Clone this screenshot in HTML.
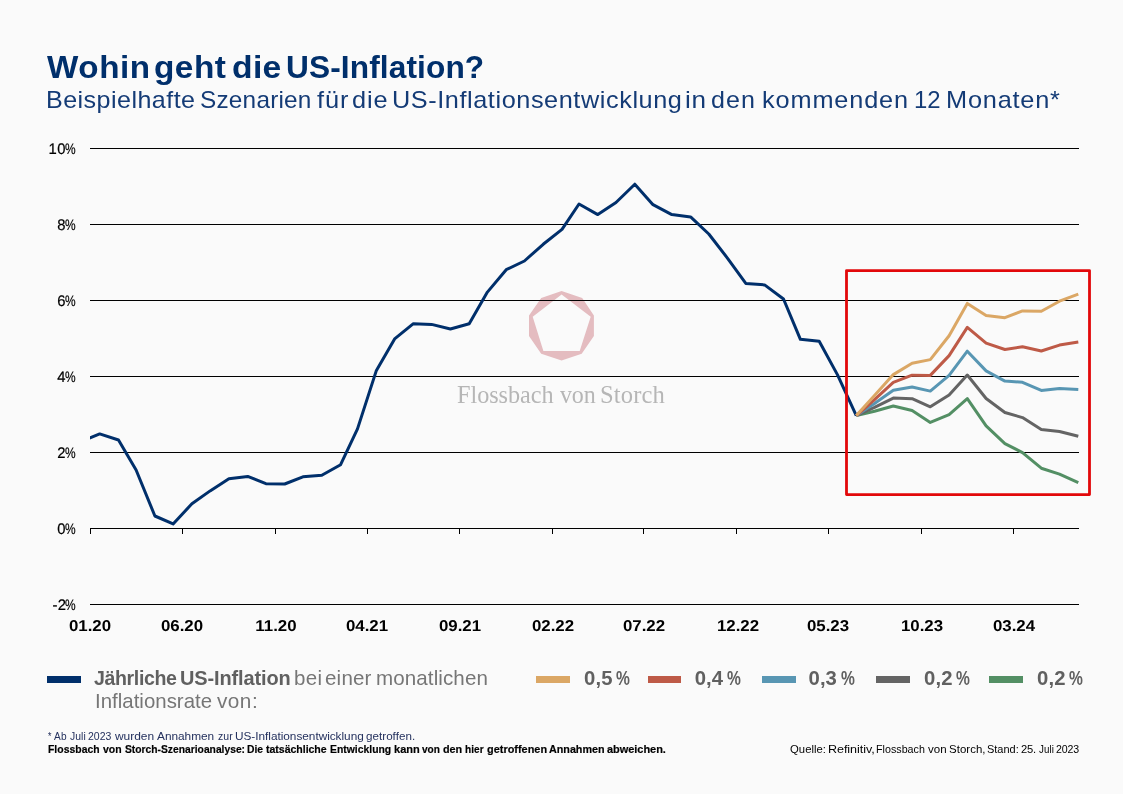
<!DOCTYPE html>
<html lang="de">
<head>
<meta charset="utf-8">
<title>Wohin geht die US-Inflation?</title>
<style>
html,body{margin:0;padding:0;}
body{width:1123px;height:794px;background:#fafafa;overflow:hidden;position:relative;font-family:"Liberation Sans",sans-serif;}
.chart{position:absolute;left:0;top:0;}
.g{stroke:#000;stroke-width:1;shape-rendering:crispEdges;}
.l{fill:none;stroke-linejoin:round;stroke-linecap:butt;}
.t{position:absolute;white-space:nowrap;line-height:1;transform-origin:left top;color:#000;}
.b{font-weight:bold;}
.navy{color:#002f6b;}
.gr{color:#606060;}
.wm{font-family:"Liberation Serif",serif;color:#b6b6b6;}
.fn{color:#24315e;}
.ln{position:absolute;left:0;width:1123px;height:1em;line-height:1;white-space:nowrap;}
.w{position:absolute;top:0;display:block;line-height:1;transform-origin:left top;white-space:nowrap;}
.hv{-webkit-text-stroke:0.2px #000;}
.yl{-webkit-text-stroke:0.2px #000;}
.navy2{color:#143b76;}
.gr2{color:#767676;}
</style>
</head>
<body>
<svg class="chart" width="1123" height="794" viewBox="0 0 1123 794">
<path fill="#e4bcc0" fill-rule="evenodd" d="M561.6 291 L582.2 297.9 L593.9 315.4 L593.9 336.1 L581.7 353.7 L561.6 360.5 L541.2 353.7 L529 336.1 L529 315.4 L541.2 297.9 Z M561.6 294.5 L590.7 316.8 L579.7 350.9 L543.4 350.9 L532.7 316.8 Z"/>
<line x1="90" x2="1079" y1="148.5" y2="148.5" class="g"/>
<line x1="90" x2="1079" y1="224.5" y2="224.5" class="g"/>
<line x1="90" x2="1079" y1="300.5" y2="300.5" class="g"/>
<line x1="90" x2="1079" y1="376.5" y2="376.5" class="g"/>
<line x1="90" x2="1079" y1="452.5" y2="452.5" class="g"/>
<line x1="90" x2="1079" y1="528.5" y2="528.5" class="g"/>
<line x1="90" x2="1079" y1="604.5" y2="604.5" class="g"/>
<line x1="90.5" x2="90.5" y1="528" y2="534" class="g"/>
<line x1="182.5" x2="182.5" y1="528" y2="534" class="g"/>
<line x1="275.5" x2="275.5" y1="528" y2="534" class="g"/>
<line x1="367.5" x2="367.5" y1="528" y2="534" class="g"/>
<line x1="459.5" x2="459.5" y1="528" y2="534" class="g"/>
<line x1="552.5" x2="552.5" y1="528" y2="534" class="g"/>
<line x1="643.5" x2="643.5" y1="528" y2="534" class="g"/>
<line x1="736.5" x2="736.5" y1="528" y2="534" class="g"/>
<line x1="828.5" x2="828.5" y1="528" y2="534" class="g"/>
<line x1="921.5" x2="921.5" y1="528" y2="534" class="g"/>
<line x1="1013.5" x2="1013.5" y1="528" y2="534" class="g"/>
<clipPath id="plot"><rect x="90" y="120" width="1000" height="500"/></clipPath>
<polyline class="l" clip-path="url(#plot)" stroke="#002f6b" stroke-width="3" points="80.9,441.5 99.7,433.9 118.5,440.0 136.1,470.0 154.9,516.0 173.1,523.9 191.9,503.8 210.1,490.9 228.9,478.7 247.7,476.4 265.9,483.7 284.7,484.0 302.9,476.8 321.8,475.3 340.6,464.7 357.5,428.9 376.4,370.4 394.6,338.9 413.4,323.7 431.6,324.4 450.4,329.0 469.2,323.7 487.4,292.1 506.2,269.7 524.4,261.0 543.2,244.3 562.0,229.4 579.0,204.0 597.8,214.6 616.0,202.5 634.8,184.2 653.0,204.7 671.8,214.6 690.6,216.9 708.8,234.0 727.6,258.3 745.8,283.4 764.6,284.9 783.5,299.0 800.4,339.3 819.2,341.2 837.4,374.6 856.3,415.6"/>
<polyline class="l" stroke="#538f64" stroke-width="3" points="856.3,415.6 874.5,411.3 893.3,406.0 912.1,410.5 930.3,422.4 949.1,414.6 967.3,398.6 986.1,425.9 1004.9,443.6 1022.5,452.6 1041.3,468.2 1059.5,474.1 1078.3,482.6"/>
<polyline class="l" stroke="#646464" stroke-width="3" points="856.3,415.6 874.5,407.4 893.3,398.1 912.1,398.7 930.3,406.8 949.1,395.0 967.3,375.0 986.1,398.5 1004.9,412.5 1022.5,417.6 1041.3,429.5 1059.5,431.5 1078.3,436.3"/>
<polyline class="l" stroke="#5896b3" stroke-width="3" points="856.3,415.6 874.5,403.5 893.3,390.3 912.1,387.0 930.3,391.1 949.1,375.3 967.3,351.2 986.1,370.9 1004.9,381.1 1022.5,382.3 1041.3,390.4 1059.5,388.5 1078.3,389.4"/>
<polyline class="l" stroke="#be5a47" stroke-width="3" points="856.3,415.6 874.5,399.6 893.3,382.4 912.1,375.2 930.3,375.4 949.1,355.6 967.3,327.4 986.1,343.2 1004.9,349.5 1022.5,346.8 1041.3,351.0 1059.5,345.1 1078.3,342.0"/>
<polyline class="l" stroke="#dba765" stroke-width="3" points="856.3,415.6 874.5,395.6 893.3,374.6 912.1,363.3 930.3,359.6 949.1,335.7 967.3,303.4 986.1,315.4 1004.9,317.7 1022.5,310.9 1041.3,311.2 1059.5,301.2 1078.3,294.1"/>
<rect x="846.5" y="270.6" width="243" height="224" fill="none" stroke="#e2080a" stroke-width="2.8" stroke-linejoin="round"/>
<rect x="47" y="676" width="34" height="7" fill="#002f6b"/>
<rect x="536" y="676" width="34" height="7" fill="#dba765"/>
<rect x="648" y="676" width="33" height="7" fill="#be5a47"/>
<rect x="762" y="676" width="34" height="7" fill="#5896b3"/>
<rect x="876" y="676" width="34" height="7" fill="#646464"/>
<rect x="989" y="676" width="34" height="7" fill="#538f64"/>
</svg>
<div class="ln b navy" style="top:52.63px;font-size:30.8px;"><span class="w" style="left:46.50px;letter-spacing:0.525px;transform:scaleX(1.0783);">Wohin</span> <span class="w" style="left:154.40px;letter-spacing:0.436px;transform:scaleX(1.0837);">geht</span> <span class="w" style="left:231.60px;letter-spacing:0.294px;transform:scaleX(1.0936);">die</span> <span class="w" style="left:285.62px;letter-spacing:0.117px;transform:scaleX(1.0269);">US-Inflation?</span></div>
<div class="ln navy2" style="top:88.18px;font-size:24px;"><span class="w" style="left:45.90px;letter-spacing:0.434px;transform:scaleX(1.0451);">Beispielhafte</span> <span class="w" style="left:200.20px;letter-spacing:0.222px;transform:scaleX(1.0142);">Szenarien</span> <span class="w" style="left:316.80px;letter-spacing:0.908px;transform:scaleX(1.0571);">für</span> <span class="w" style="left:352.40px;letter-spacing:0.845px;transform:scaleX(1.0547);">die</span> <span class="w" style="left:392.35px;letter-spacing:0.548px;transform:scaleX(1.0526);">US-Inflationsentwicklung</span> <span class="w" style="left:685.36px;letter-spacing:0.727px;transform:scaleX(1.0858);">in</span> <span class="w" style="left:711.20px;letter-spacing:1.056px;transform:scaleX(1.0434);">den</span> <span class="w" style="left:761.51px;letter-spacing:0.841px;transform:scaleX(1.0526);">kommenden</span> <span class="w" style="left:913.68px;letter-spacing:-0.147px;transform:scaleX(0.9963);">12</span> <span class="w" style="left:945.70px;letter-spacing:0.752px;transform:scaleX(1.0552);">Monaten*</span></div>
<div class="ln wm" style="top:382.65px;font-size:24.3px;"><span class="w" style="left:457.35px;letter-spacing:-0.050px;transform:scaleX(0.9982);">Flossbach</span> <span class="w" style="left:560.30px;letter-spacing:-0.147px;transform:scaleX(0.9887);">von</span> <span class="w" style="left:600.17px;letter-spacing:0.120px;transform:scaleX(1.0120);">Storch</span></div>
<div class="t yl" style="right:1057.10px;top:140.85px;font-size:15.3px;text-align:right;transform-origin:right top;letter-spacing:0.400px;transform:matrix(0.9700,0.0005,0,1,0,0);">10</div>
<div class="t yl" style="right:1047.40px;top:140.85px;font-size:15.3px;text-align:right;transform-origin:right top;transform:matrix(0.7800,0.0005,0,1,0,0);">%</div>
<div class="t yl" style="right:1057.10px;top:216.85px;font-size:15.3px;text-align:right;transform-origin:right top;letter-spacing:0.400px;transform:matrix(0.9700,0.0005,0,1,0,0);">8</div>
<div class="t yl" style="right:1047.40px;top:216.85px;font-size:15.3px;text-align:right;transform-origin:right top;transform:matrix(0.7800,0.0005,0,1,0,0);">%</div>
<div class="t yl" style="right:1057.10px;top:292.85px;font-size:15.3px;text-align:right;transform-origin:right top;letter-spacing:0.400px;transform:matrix(0.9700,0.0005,0,1,0,0);">6</div>
<div class="t yl" style="right:1047.40px;top:292.85px;font-size:15.3px;text-align:right;transform-origin:right top;transform:matrix(0.7800,0.0005,0,1,0,0);">%</div>
<div class="t yl" style="right:1057.10px;top:368.85px;font-size:15.3px;text-align:right;transform-origin:right top;letter-spacing:0.400px;transform:matrix(0.9700,0.0005,0,1,0,0);">4</div>
<div class="t yl" style="right:1047.40px;top:368.85px;font-size:15.3px;text-align:right;transform-origin:right top;transform:matrix(0.7800,0.0005,0,1,0,0);">%</div>
<div class="t yl" style="right:1057.10px;top:444.85px;font-size:15.3px;text-align:right;transform-origin:right top;letter-spacing:0.400px;transform:matrix(0.9700,0.0005,0,1,0,0);">2</div>
<div class="t yl" style="right:1047.40px;top:444.85px;font-size:15.3px;text-align:right;transform-origin:right top;transform:matrix(0.7800,0.0005,0,1,0,0);">%</div>
<div class="t yl" style="right:1057.10px;top:520.85px;font-size:15.3px;text-align:right;transform-origin:right top;letter-spacing:0.400px;transform:matrix(0.9700,0.0005,0,1,0,0);">0</div>
<div class="t yl" style="right:1047.40px;top:520.85px;font-size:15.3px;text-align:right;transform-origin:right top;transform:matrix(0.7800,0.0005,0,1,0,0);">%</div>
<div class="t yl" style="right:1057.10px;top:596.85px;font-size:15.3px;text-align:right;transform-origin:right top;letter-spacing:0.400px;transform:matrix(0.9700,0.0005,0,1,0,0);">-2</div>
<div class="t yl" style="right:1047.40px;top:596.85px;font-size:15.3px;text-align:right;transform-origin:right top;transform:matrix(0.7800,0.0005,0,1,0,0);">%</div>
<div class="t b" style="left:50.10px;top:617.71px;font-size:15.7px;width:80px;text-align:center;transform-origin:center top;transform:matrix(1.0750,0.0005,0,1.0000,0,0);">01.20</div>
<div class="t b" style="left:142.10px;top:617.71px;font-size:15.7px;width:80px;text-align:center;transform-origin:center top;transform:matrix(1.0750,0.0005,0,1.0000,0,0);">06.20</div>
<div class="t b" style="left:235.60px;top:617.71px;font-size:15.7px;width:80px;text-align:center;transform-origin:center top;transform:matrix(1.0750,0.0005,0,1.0000,0,0);">11.20</div>
<div class="t b" style="left:327.10px;top:617.71px;font-size:15.7px;width:80px;text-align:center;transform-origin:center top;transform:matrix(1.0750,0.0005,0,1.0000,0,0);">04.21</div>
<div class="t b" style="left:419.60px;top:617.71px;font-size:15.7px;width:80px;text-align:center;transform-origin:center top;transform:matrix(1.0750,0.0005,0,1.0000,0,0);">09.21</div>
<div class="t b" style="left:513.10px;top:617.71px;font-size:15.7px;width:80px;text-align:center;transform-origin:center top;transform:matrix(1.0750,0.0005,0,1.0000,0,0);">02.22</div>
<div class="t b" style="left:604.30px;top:617.71px;font-size:15.7px;width:80px;text-align:center;transform-origin:center top;transform:matrix(1.0750,0.0005,0,1.0000,0,0);">07.22</div>
<div class="t b" style="left:697.60px;top:617.71px;font-size:15.7px;width:80px;text-align:center;transform-origin:center top;transform:matrix(1.0750,0.0005,0,1.0000,0,0);">12.22</div>
<div class="t b" style="left:788.10px;top:617.71px;font-size:15.7px;width:80px;text-align:center;transform-origin:center top;transform:matrix(1.0750,0.0005,0,1.0000,0,0);">05.23</div>
<div class="t b" style="left:881.90px;top:617.71px;font-size:15.7px;width:80px;text-align:center;transform-origin:center top;transform:matrix(1.0750,0.0005,0,1.0000,0,0);">10.23</div>
<div class="t b" style="left:973.50px;top:617.71px;font-size:15.7px;width:80px;text-align:center;transform-origin:center top;transform:matrix(1.0750,0.0005,0,1.0000,0,0);">03.24</div>
<div class="ln gr b" style="top:668.12px;font-size:20.3px;"><span class="w" style="left:94.30px;letter-spacing:-0.398px;transform:scaleX(0.9661);">Jährliche</span> <span class="w" style="left:179.70px;letter-spacing:-0.116px;transform:scaleX(0.9844);">US-Inflation</span></div>
<div class="ln gr2" style="top:668.12px;font-size:20.3px;"><span class="w" style="left:293.60px;letter-spacing:0.293px;transform:scaleX(1.0120);">bei</span> <span class="w" style="left:324.91px;letter-spacing:0.187px;transform:scaleX(1.0134);">einer</span> <span class="w" style="left:375.70px;letter-spacing:0.100px;transform:scaleX(1.0136);">monatlichen</span></div>
<div class="ln gr2" style="top:691.02px;font-size:20.3px;"><span class="w" style="left:94.73px;letter-spacing:0.017px;transform:scaleX(1.0063);">Inflationsrate</span> <span class="w" style="left:216.80px;letter-spacing:0.469px;transform:scaleX(1.0230);">von:</span></div>
<div class="t gr b" style="left:584.10px;top:667.62px;font-size:20.3px;letter-spacing:0.100px;">0,5</div>
<div class="t gr b" style="left:616.40px;top:667.87px;font-size:20px;transform:scaleX(0.7800);">%</div>
<div class="t gr b" style="left:694.70px;top:667.62px;font-size:20.3px;letter-spacing:0.100px;">0,4</div>
<div class="t gr b" style="left:727.00px;top:667.87px;font-size:20px;transform:scaleX(0.7800);">%</div>
<div class="t gr b" style="left:808.50px;top:667.62px;font-size:20.3px;letter-spacing:0.100px;">0,3</div>
<div class="t gr b" style="left:840.80px;top:667.87px;font-size:20px;transform:scaleX(0.7800);">%</div>
<div class="t gr b" style="left:924.10px;top:667.62px;font-size:20.3px;letter-spacing:0.100px;">0,2</div>
<div class="t gr b" style="left:956.40px;top:667.87px;font-size:20px;transform:scaleX(0.7800);">%</div>
<div class="t gr b" style="left:1037.10px;top:667.62px;font-size:20.3px;letter-spacing:0.100px;">0,2</div>
<div class="t gr b" style="left:1069.40px;top:667.87px;font-size:20px;transform:scaleX(0.7800);">%</div>
<div class="ln fn" style="top:730.18px;font-size:11.6px;"><span class="w" style="left:48.00px;transform:scaleX(0.7606);">*</span> <span class="w" style="left:54.40px;letter-spacing:0.372px;transform:scaleX(0.8714);">Ab</span> <span class="w" style="left:69.60px;letter-spacing:0.074px;transform:scaleX(0.8941);">Juli</span> <span class="w" style="left:88.28px;letter-spacing:-0.018px;transform:scaleX(0.9041);">2023</span> <span class="w" style="left:115.40px;letter-spacing:-0.024px;transform:scaleX(1.0324);">wurden</span> <span class="w" style="left:157.30px;letter-spacing:-0.019px;transform:scaleX(1.0226);">Annahmen</span> <span class="w" style="left:218.00px;letter-spacing:0.050px;transform:scaleX(0.9062);">zur</span> <span class="w" style="left:234.90px;letter-spacing:-0.022px;transform:scaleX(1.0183);">US-Inflationsentwicklung</span> <span class="w" style="left:366.08px;letter-spacing:0.025px;transform:scaleX(1.0025);">getroffen.</span></div>
<div class="ln b hv" style="top:743.71px;font-size:11.8px;"><span class="w" style="left:48.23px;letter-spacing:0.035px;transform:scaleX(0.8803);">Flossbach</span> <span class="w" style="left:103.00px;letter-spacing:0.041px;transform:scaleX(0.8880);">von</span> <span class="w" style="left:124.60px;letter-spacing:0.008px;transform:scaleX(0.8708);">Storch-Szenarioanalyse:</span> <span class="w" style="left:246.62px;letter-spacing:-0.033px;transform:scaleX(0.8754);">Die</span> <span class="w" style="left:266.00px;letter-spacing:-0.033px;transform:scaleX(0.8941);">tatsächliche</span> <span class="w" style="left:329.92px;letter-spacing:-0.010px;transform:scaleX(0.8820);">Entwicklung</span> <span class="w" style="left:393.88px;letter-spacing:0.014px;transform:scaleX(0.9339);">kann</span> <span class="w" style="left:422.20px;transform:scaleX(0.8536);">von</span> <span class="w" style="left:442.50px;letter-spacing:-0.088px;transform:scaleX(0.9177);">den</span> <span class="w" style="left:464.62px;letter-spacing:0.046px;transform:scaleX(0.8529);">hier</span> <span class="w" style="left:487.30px;letter-spacing:0.018px;transform:scaleX(0.9227);">getroffenen</span> <span class="w" style="left:549.30px;letter-spacing:-0.019px;transform:scaleX(0.9126);">Annahmen</span> <span class="w" style="left:607.00px;letter-spacing:-0.031px;transform:scaleX(0.9302);">abweichen.</span></div>
<div class="ln " style="top:743.18px;font-size:11.6px;"><span class="w" style="left:790.33px;letter-spacing:0.038px;transform:scaleX(0.9739);">Quelle:</span> <span class="w" style="left:827.90px;letter-spacing:-0.055px;transform:scaleX(1.0830);">Refinitiv,</span> <span class="w" style="left:876.22px;letter-spacing:0.017px;transform:scaleX(0.9232);">Flossbach</span> <span class="w" style="left:928.30px;letter-spacing:0.037px;transform:scaleX(0.9944);">von</span> <span class="w" style="left:949.05px;letter-spacing:0.047px;transform:scaleX(0.9870);">Storch,</span> <span class="w" style="left:986.69px;letter-spacing:-0.002px;transform:scaleX(0.9470);">Stand:</span> <span class="w" style="left:1020.83px;letter-spacing:-0.180px;transform:scaleX(0.9655);">25.</span> <span class="w" style="left:1038.70px;letter-spacing:0.129px;transform:scaleX(0.8412);">Juli</span> <span class="w" style="left:1056.14px;letter-spacing:-0.113px;transform:scaleX(0.9129);">2023</span></div>
</body>
</html>
